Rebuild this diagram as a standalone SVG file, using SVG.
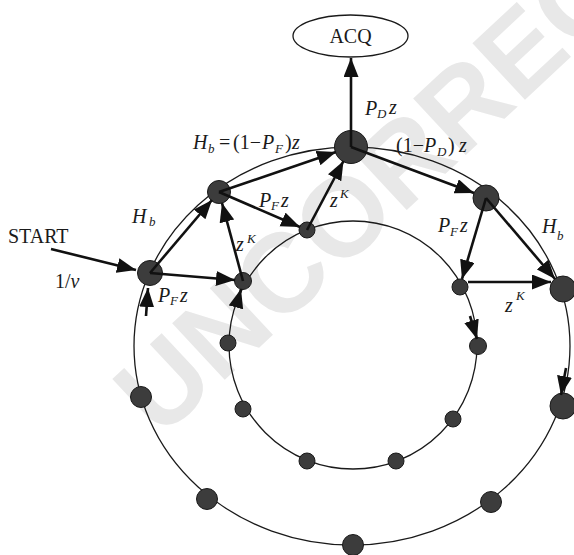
<svg xmlns="http://www.w3.org/2000/svg" width="574" height="555" viewBox="0 0 574 555">
<style>
.t{font-family:"Liberation Serif","Times New Roman",serif;font-size:20px;fill:#1a1a1a}
.i{font-style:italic}
.s{font-family:"Liberation Serif","Times New Roman",serif;font-size:13px;font-style:italic;fill:#1a1a1a}
.wm{font-family:"Liberation Sans",Arial,sans-serif;font-weight:bold;font-size:112px;fill:#e8e8e8}
.n{fill:#3c3c3c;stroke:#1a1a1a;stroke-width:1}
.ring{fill:none;stroke:#1a1a1a;stroke-width:1.3}
.c{fill:none;stroke:#111;stroke-width:2.6;marker-end:url(#ah)}
</style>
<defs>
<marker id="ah" markerUnits="userSpaceOnUse" markerWidth="20" markerHeight="16" refX="19" refY="7.5" orient="auto">
<path d="M0,0 L19,7.5 L0,15 z" fill="#111"/>
</marker>
</defs>
<rect width="574" height="555" fill="#fff"/>
<text class="wm" transform="translate(160,440) rotate(-43)">UNCORRECTED</text>

<g id="rings">
<ellipse class="ring" cx="352" cy="346" rx="218" ry="199"/>
<circle class="ring" cx="353" cy="345" r="124"/>
</g>

<g id="acq">
<ellipse cx="350.5" cy="36" rx="57.5" ry="21" fill="#fff" stroke="#1a1a1a" stroke-width="1.3"/>
<text class="t" x="350.5" y="43" text-anchor="middle">ACQ</text>
</g>

<g id="n-start"><circle class="n" cx="150" cy="273" r="12.5"/></g>
<g id="n-ul"><circle class="n" cx="219" cy="192" r="11.5"/></g>
<g id="n-top"><circle class="n" cx="351" cy="147" r="16.5"/></g>
<g id="n-ur"><circle class="n" cx="486" cy="198" r="13"/></g>
<g id="n-r1"><circle class="n" cx="563" cy="289" r="13"/></g>
<g id="n-r2"><circle class="n" cx="563" cy="406" r="13"/></g>
<g id="n-lr"><circle class="n" cx="491" cy="502" r="10.5"/></g>
<g id="n-bot"><circle class="n" cx="353" cy="545" r="10.5"/></g>
<g id="n-ll"><circle class="n" cx="207" cy="499" r="10.5"/></g>
<g id="n-l"><circle class="n" cx="141" cy="397" r="10.5"/></g>
<g id="i-top"><circle class="n" cx="307" cy="230" r="8"/></g>
<g id="i-left"><circle class="n" cx="243" cy="281" r="8.5"/></g>
<g id="i-right"><circle class="n" cx="460" cy="287" r="8"/></g>
<g id="i-r2"><circle class="n" cx="478" cy="346" r="8.5"/></g>
<g id="i-r3"><circle class="n" cx="453" cy="419" r="8"/></g>
<g id="i-b2"><circle class="n" cx="396" cy="461" r="8"/></g>
<g id="i-b1"><circle class="n" cx="307" cy="461" r="8"/></g>
<g id="i-l3"><circle class="n" cx="243" cy="409" r="8"/></g>
<g id="i-l2"><circle class="n" cx="228" cy="343" r="8"/></g>

<g id="connectors">
<line class="c" x1="51" y1="249" x2="136" y2="270"/>
<line class="c" x1="150" y1="273" x2="212" y2="200"/>
<line class="c" x1="150" y1="273" x2="235" y2="280"/>
<line class="c" x1="243" y1="281" x2="222" y2="203"/>
<line class="c" x1="219" y1="192" x2="300" y2="227"/>
<line class="c" x1="219" y1="192" x2="336" y2="152"/>
<line class="c" x1="307" y1="230" x2="343.5" y2="161"/>
<line class="c" x1="351" y1="147" x2="351" y2="58"/>
<line class="c" x1="351" y1="147" x2="474" y2="193"/>
<line class="c" x1="486" y1="198" x2="462" y2="279"/>
<line class="c" x1="486" y1="198" x2="555" y2="279"/>
<line class="c" x1="468" y1="282" x2="551" y2="282"/>
<line class="c" stroke-width="1.5" x1="470" y1="316" x2="477" y2="339"/>
<line class="c" stroke-width="1.5" x1="566" y1="368" x2="561" y2="395"/>
<line class="c" stroke-width="2" x1="146" y1="316" x2="148" y2="288"/>
<line class="c" stroke-width="2" x1="236" y1="307" x2="241" y2="289"/>
</g>

<g id="labels">
<text class="t" x="8" y="243">START</text>
<text class="t" x="55" y="288">1/<tspan class="i">ν</tspan></text>
<text class="t i" x="132" y="223">H</text><text class="s" x="149" y="226">b</text>
<text class="t i" x="158" y="302">P</text><text class="s" x="170" y="305">F</text><text class="t i" x="180" y="302">z</text>
<text class="t i" x="236" y="251">z</text><text class="s" x="247" y="243">K</text>
<text class="t i" x="259" y="207">P</text><text class="s" x="271" y="210">F</text><text class="t i" x="281" y="207">z</text>
<text class="t i" x="330" y="207">z</text><text class="s" x="340" y="198">K</text>
<text class="t i" x="193" y="149">H</text><text class="s" x="208" y="153">b</text>
<text class="t" x="219" y="149">=</text><text class="t" x="233" y="149">(1−</text>
<text class="t i" x="262" y="149">P</text><text class="s" x="275" y="153">F</text><text class="t" x="285" y="149">)</text><text class="t i" x="292" y="149">z</text>
<text class="t i" x="365" y="115">P</text><text class="s" x="377" y="118">D</text><text class="t i" x="389" y="114">z</text>
<text class="t" x="396" y="152">(1−</text>
<text class="t i" x="424" y="152">P</text><text class="s" x="437" y="156">D</text><text class="t" x="448" y="152">)</text><text class="t i" x="459" y="152">z</text>
<text class="t i" x="438" y="232">P</text><text class="s" x="450" y="236">F</text><text class="t i" x="460" y="232">z</text>
<text class="t i" x="542" y="233">H</text><text class="s" x="557" y="240">b</text>
<text class="t i" x="505" y="312">z</text><text class="s" x="516" y="300">K</text>
</g>
</svg>
